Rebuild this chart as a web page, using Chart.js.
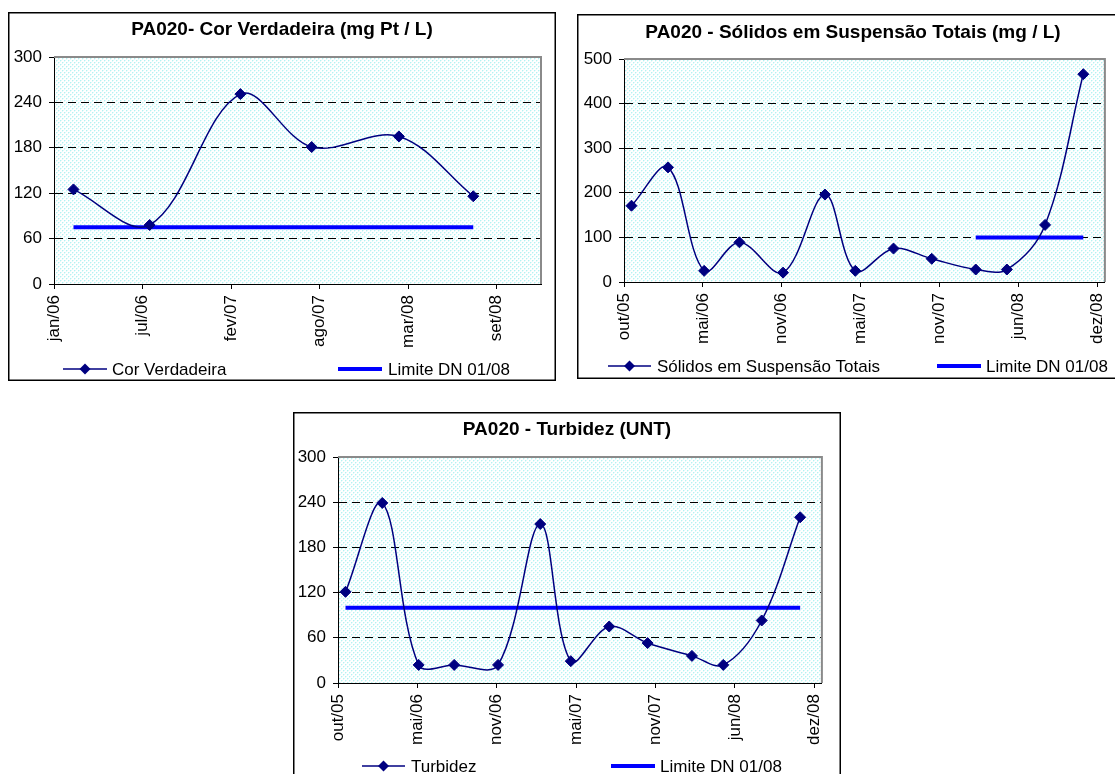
<!DOCTYPE html>
<html><head><meta charset="utf-8">
<script src="https://cdn.jsdelivr.net/npm/chart.js@4.4.0/dist/chart.umd.min.js"></script>
<style>
html,body{margin:0;padding:0;background:#fff}
body{width:1115px;height:774px;overflow:hidden;position:relative}
canvas{position:absolute;display:block}
</style></head><body>
<canvas id="c1"></canvas>
<canvas id="c2"></canvas>
<canvas id="c3"></canvas>
<script>
// ---------- DATA ----------
const corTitle = 'PA020- Cor Verdadeira (mg Pt / L)';
const corDates = ['2006-02-14','2006-08-05','2007-02-26','2007-08-06','2008-02-19','2008-08-05'];
const corValues = [125, 78, 251, 181, 195, 116];
const corLimit = 75;
const corTickLabels = ['jan/06','jul/06','fev/07','ago/07','mar/08','set/08'];
const corSeriesName = 'Cor Verdadeira';

const sstTitle = 'PA020 - Sólidos em Suspensão Totais (mg / L)';
const sstDates = ['2005-11-15','2006-02-11','2006-05-09','2006-08-02','2006-11-15','2007-02-24','2007-05-08','2007-08-08','2007-11-08','2008-02-22','2008-05-07','2008-08-07','2008-11-07'];
const sstValues = [171, 257, 25, 89, 21, 196, 25, 75, 52, 28, 28, 128, 466];
const sstLimit = 100;
const sstLimitDates = ['2008-02-22','2008-11-07'];
const sstSeriesName = 'Sólidos em Suspensão Totais';

const turbTitle = 'PA020 - Turbidez (UNT)';
const turbDates = ['2005-11-15','2006-02-11','2006-05-09','2006-08-02','2006-11-15','2007-02-24','2007-05-08','2007-08-08','2007-11-08','2008-02-22','2008-05-07','2008-08-07','2008-11-07'];
const turbValues = [121, 239, 24, 24, 24, 211, 29, 75, 53, 36, 24, 83, 220];
const turbLimit = 100;
const turbSeriesName = 'Turbidez';

const periodTickLabels = ['out/05','mai/06','nov/06','mai/07','nov/07','jun/08','dez/08'];
const limitName = 'Limite DN 01/08';

// ---------- HELPERS ----------
const DAY = 86400000;
function dayOffset(date, start){ return (Date.parse(date) - Date.parse(start)) / DAY; }

const FONT = '"Liberation Sans", Arial, sans-serif';
const NAVY = '#000080';
const BLUE = '#0000ff';

function makePattern(){
  const p = document.createElement('canvas');
  p.width = 4; p.height = 4;
  const g = p.getContext('2d');
  g.fillStyle = '#ffffff'; g.fillRect(0,0,4,4);
  g.fillStyle = '#b4f2f2';
  g.fillRect(0,0,1,1); g.fillRect(2,2,1,1);
  g.fillStyle = '#e0fafa';
  g.fillRect(1,0,1,1); g.fillRect(0,1,1,1); g.fillRect(3,2,1,1); g.fillRect(2,3,1,1);
  return p;
}
const patternCanvas = makePattern();

function buildChart(cfg){
  const cv = document.getElementById(cfg.id);
  const b = cfg.box;
  cv.width = b.w; cv.height = b.h;
  cv.style.left = b.left + 'px'; cv.style.top = b.top + 'px';
  cv.style.width = b.w + 'px'; cv.style.height = b.h + 'px';
  const pl = cfg.plot.l - b.left, pt = cfg.plot.t - b.top, pr = cfg.plot.r - b.left, pb = cfg.plot.b - b.top;

  const mainData = cfg.dates.map((d,i)=>({x: dayOffset(d, cfg.axisStart), y: cfg.values[i]}));
  const limData = cfg.limitDates.map(d=>({x: dayOffset(d, cfg.axisStart), y: cfg.limit}));

  const deco = {
    id: 'deco',
    beforeDraw(chart){
      const {ctx, chartArea: a} = chart;
      ctx.save();
      ctx.fillStyle = ctx.createPattern(patternCanvas, 'repeat');
      ctx.fillRect(a.left, a.top, a.right - a.left, a.bottom - a.top);
      ctx.restore();
    },
    beforeDatasetsDraw(chart){
      const {ctx, chartArea: a} = chart;
      ctx.save();
      ctx.strokeStyle = '#8a8a8a'; ctx.lineWidth = 2;
      ctx.beginPath();
      ctx.moveTo(a.left, a.top); ctx.lineTo(a.right, a.top); ctx.lineTo(a.right, a.bottom);
      ctx.stroke();
      ctx.restore();
    },
    afterDraw(chart){
      const ctx = chart.ctx;
      ctx.save();
      // frame
      ctx.strokeStyle = '#000'; ctx.lineWidth = 1.5;
      ctx.strokeRect(0.75, 0.75, b.w - 1.5, b.h - 1.5);
      // title
      ctx.fillStyle = '#000';
      ctx.font = 'bold 19px ' + FONT;
      ctx.textAlign = 'center'; ctx.textBaseline = 'middle';
      ctx.fillText(cfg.title, cfg.titleX, cfg.titleY);
      // legend
      const L = cfg.legend, y = L.y;
      ctx.font = '17px ' + FONT;
      ctx.textAlign = 'left';
      ctx.strokeStyle = NAVY; ctx.lineWidth = 1.5;
      ctx.beginPath(); ctx.moveTo(L.s1[0], y); ctx.lineTo(L.s1[1], y); ctx.stroke();
      const cx = (L.s1[0] + L.s1[1]) / 2, r = 5.5;
      ctx.fillStyle = NAVY;
      ctx.beginPath(); ctx.moveTo(cx, y - r); ctx.lineTo(cx + r, y); ctx.lineTo(cx, y + r); ctx.lineTo(cx - r, y); ctx.closePath(); ctx.fill();
      ctx.fillStyle = '#000';
      ctx.fillText(cfg.seriesName, L.t1, y + 1);
      ctx.strokeStyle = BLUE; ctx.lineWidth = 4;
      ctx.beginPath(); ctx.moveTo(L.s2[0], y); ctx.lineTo(L.s2[1], y); ctx.stroke();
      ctx.fillText(limitName, L.t2, y + 1);
      ctx.restore();
    }
  };

  const ymax = cfg.ymax;
  return new Chart(cv, {
    type: 'line',
    data: { datasets: [
      { label: cfg.seriesName, data: mainData, borderColor: NAVY, borderWidth: 1.5,
        pointStyle: 'rectRot', pointRadius: 5.5, pointHoverRadius: 5.5,
        pointBackgroundColor: NAVY, pointBorderColor: NAVY, pointBorderWidth: 1,
        tension: 0.35, fill: false },
      { label: limitName, data: limData, borderColor: BLUE, borderWidth: 4,
        pointRadius: 0, tension: 0, fill: false, borderCapStyle: 'butt' }
    ]},
    options: {
      responsive: false, animation: false, devicePixelRatio: 1,
      layout: { padding: { left: 0, top: pt, right: b.w - pr, bottom: 0 } },
      plugins: { legend: { display: false }, title: { display: false }, tooltip: { enabled: false } },
      events: [],
      scales: {
        x: {
          type: 'linear', min: 0, max: cfg.xmax,
          afterFit(s){ s.height = b.h - pb; },
          afterBuildTicks(s){ s.ticks = cfg.tickLabels.map((_, i) => ({ value: i * cfg.step })); },
          grid: { drawOnChartArea: false, drawTicks: true, tickLength: 5, tickColor: '#000', color: '#000' },
          border: { display: true, color: '#000', width: 1 },
          ticks: { autoSkip: false, minRotation: 90, maxRotation: 90, padding: 6,
                   color: '#000', font: { family: FONT, size: 17 },
                   callback: (v, i) => cfg.tickLabels[i] }
        },
        y: {
          min: 0, max: ymax,
          afterFit(s){ s.width = pl; },
          grid: { drawTicks: true, tickLength: 5, tickColor: '#000', tickBorderDash: [],
                  color: c => (c.tick && (c.tick.value === 0 || c.tick.value === ymax)) ? 'rgba(0,0,0,0)' : '#000',
                  lineWidth: 1 },
          border: { display: true, color: '#000', width: 1, dash: [8, 5] },
          ticks: { stepSize: cfg.ystep, padding: 7, color: '#000', font: { family: FONT, size: 17 } }
        }
      }
    },
    plugins: [deco]
  });
}

buildChart({
  id: 'c1', box: { left: 8, top: 12, w: 548, h: 369 },
  plot: { l: 54, t: 57, r: 541, b: 284 },
  title: corTitle, titleX: 274, titleY: 18,
  dates: corDates, values: corValues, limit: corLimit,
  limitDates: [corDates[0], corDates[corDates.length - 1]],
  axisStart: '2006-01-01', step: 200, xmax: 1100, tickLabels: corTickLabels,
  ymax: 300, ystep: 60, seriesName: corSeriesName,
  legend: { y: 357, s1: [55, 99], t1: 104, s2: [330, 374], t2: 380 }
});

buildChart({
  id: 'c2', box: { left: 577, top: 14, w: 547, h: 365 },
  plot: { l: 624, t: 59, r: 1112, b: 282 },
  title: sstTitle, titleX: 276, titleY: 19,
  dates: sstDates, values: sstValues, limit: sstLimit,
  limitDates: sstLimitDates,
  axisStart: '2005-10-28', step: 190, xmax: 1158, tickLabels: periodTickLabels,
  ymax: 500, ystep: 100, seriesName: sstSeriesName,
  legend: { y: 352, s1: [31, 74], t1: 80, s2: [360, 404], t2: 409 }
});

buildChart({
  id: 'c3', box: { left: 293, top: 412, w: 548, h: 372 },
  plot: { l: 338, t: 457, r: 826, b: 683 },
  title: turbTitle, titleX: 274, titleY: 18,
  dates: turbDates, values: turbValues, limit: turbLimit,
  limitDates: [turbDates[0], turbDates[turbDates.length - 1]],
  axisStart: '2005-10-28', step: 190, xmax: 1158, tickLabels: periodTickLabels,
  ymax: 300, ystep: 60, seriesName: turbSeriesName,
  legend: { y: 354, s1: [69, 112], t1: 118, s2: [318, 362], t2: 367 }
});
</script>
</body></html>
